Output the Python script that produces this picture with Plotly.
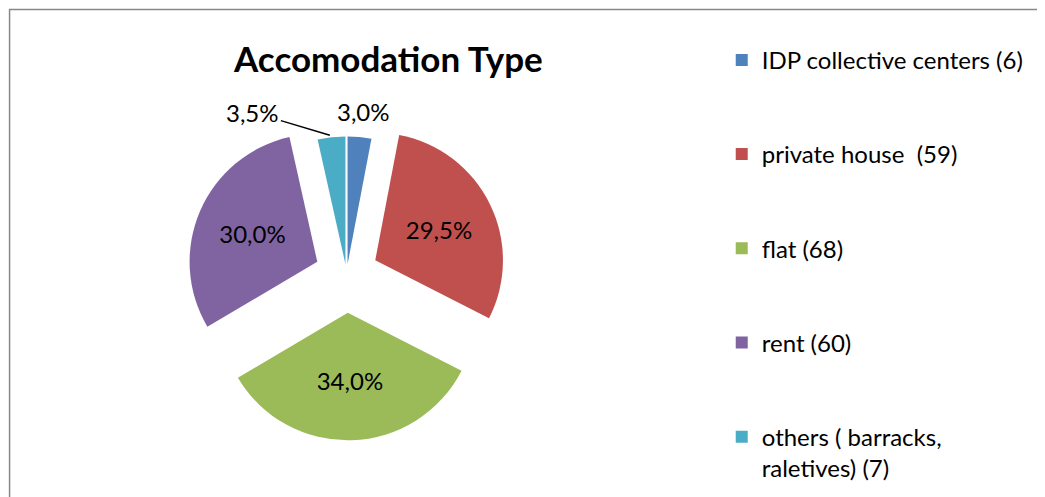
import plotly.graph_objects as go

# data
categories = ['IDP collective centers (6)', 'private house  (59)', 'flat (68)',
              'rent (60)', 'others ( barracks,<br>raletives) (7)']
counts = [6, 59, 68, 60, 7]
colors = ['#4F81BD', '#C0504D', '#9BBB59', '#8064A2', '#4BACC6']

FONT = 'Lato'


def pct_text(v):
    return '{:.1f}%'.format(100.0 * v / sum(counts)).replace('.', ',')


fig = go.Figure()
fig.add_trace(go.Pie(
    values=counts,
    labels=categories,
    sort=False,
    direction='clockwise',
    rotation=0,
    pull=[0.08, 0.25, 0.3, 0.25, 0.08],
    marker=dict(colors=colors, line=dict(color='white', width=0)),
    # the two thin slices get their labels as annotations below
    texttemplate=['', '%{percent:.1%}', '%{percent:.1%}', '%{percent:.1%}', ''],
    textposition='inside',
    insidetextorientation='horizontal',
    textfont=dict(family=FONT, size=24, color='black'),
    showlegend=False,
    domain=dict(x=[0.165, 0.483], y=[0.13, 0.798]),
    hoverinfo='label+value+percent',
))

# legend entries, one group each so the gap between them can be set
for name, col in zip(categories, colors):
    fig.add_trace(go.Scatter(
        x=[None], y=[None], mode='markers', name=name,
        legendgroup=name,
        marker=dict(symbol='square', size=14, color=col),
    ))

fig.add_annotation(xref='paper', yref='paper', x=0.308, y=0.744,
                   text=pct_text(counts[4]), showarrow=True, arrowhead=0,
                   arrowwidth=1.5, arrowcolor='black', ax=-77, ay=-23,
                   font=dict(family=FONT, size=24, color='black'))
fig.add_annotation(xref='paper', yref='paper', x=0.340, y=0.791,
                   xanchor='center', yanchor='middle',
                   text=pct_text(counts[0]), showarrow=False,
                   font=dict(family=FONT, size=24, color='black'))

fig.update_layout(
    width=1045, height=497,
    margin=dict(l=0, r=0, t=0, b=0, autoexpand=False),
    paper_bgcolor='white', plot_bgcolor='white',
    separators=',.',
    font=dict(family=FONT, color='black'),
    title=dict(text='<b>Accomodation Type</b>', x=0.364, xanchor='center',
               y=0.895, yanchor='middle', font=dict(family=FONT, size=35)),
    xaxis=dict(visible=False), yaxis=dict(visible=False),
    legend=dict(x=0.683, y=0.94, xanchor='left', yanchor='top',
                bgcolor='rgba(0,0,0,0)',
                font=dict(family=FONT, size=24), itemwidth=30,
                tracegroupgap=60, valign='top', itemsizing='constant'),
    shapes=[dict(type='rect', xref='paper', yref='paper',
                 x0=0.0015, x1=1.01, y0=-0.02, y1=0.997,
                 line=dict(color='#888888', width=1.5))],
)

fig.write_html('out.html')
